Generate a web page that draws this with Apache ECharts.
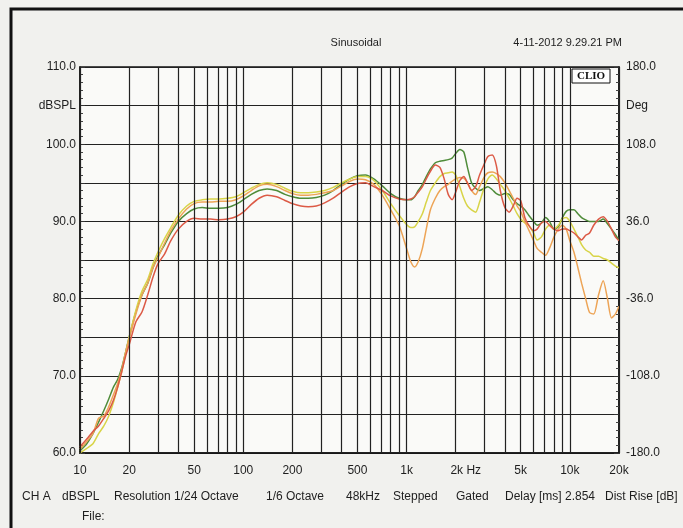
<!DOCTYPE html>
<html><head><meta charset="utf-8">
<script src="https://cdn.jsdelivr.net/npm/echarts@6/dist/echarts.min.js"></script>
<style>html,body{margin:0;padding:0;background:#f1f1ee;} #c{width:683px;height:528px;}</style>
</head><body><div id="c"></div>
<script>
// Frequencies (Hz) at which the curves were read
const freq = [10,11,12,13,14,15,16,17,18,19,20,
  22,24,26,28,30,
  33,36,40,45,50,
  56,63,71,80,90,100,
  112,125,140,160,180,200,
  225,250,280,315,355,400,
  450,500,560,630,710,800,
  900,1000,1060,1120,1180,1250,
  1320,1400,1500,1600,1700,1800,
  1900,2000,2120,2240,2360,2500,
  2650,2800,3000,3150,3350,3550,
  3750,4000,4250,4500,4750,5000,
  5300,5600,6000,6300,6700,7100,
  7500,8000,8500,9000,9500,10000,
  10600,11200,11800,12500,13200,14000,
  15000,16000,17000,18000,19000,20000];

const greenDb = [60.3,61.2,62.5,64.0,65.5,67.0,68.5,69.5,71.0,73.0,75.0,
  78.3,80.5,82.0,84.0,85.5,
  87.0,88.5,90.0,91.0,91.6,
  91.8,91.7,91.7,91.8,92.2,92.8,
  93.5,94.0,94.2,94.0,93.5,93.2,
  93.0,93.0,93.1,93.4,94.0,94.8,
  95.5,95.9,96.0,95.5,94.6,93.6,
  93.0,92.8,92.8,93.2,94.0,94.8,
  95.8,96.8,97.6,97.8,97.9,98.0,
  98.2,98.8,99.3,99.0,97.0,95.0,
  94.3,94.0,94.3,94.5,94.1,93.6,
  93.4,93.6,93.5,92.8,92.3,92.0,
  91.5,90.8,90.0,89.5,89.8,90.5,
  90.0,89.0,89.3,90.5,91.3,91.5,
  91.5,91.0,90.5,90.2,90.0,90.0,
  90.0,90.3,89.7,89.0,88.3,87.5];

const redDb = [60.8,61.8,62.8,63.5,64.5,65.5,66.8,68.5,70.5,72.5,74.0,
  77.0,78.3,80.5,82.8,84.5,
  85.8,87.5,89.0,90.0,90.4,
  90.3,90.3,90.2,90.3,90.6,91.2,
  92.2,93.0,93.4,93.2,92.7,92.3,
  92.0,91.9,92.0,92.4,93.0,93.8,
  94.5,94.9,95.0,94.5,94.0,93.3,
  92.9,92.8,92.9,93.2,93.8,94.5,
  95.5,96.5,97.3,97.0,95.5,93.5,
  92.8,93.8,95.3,95.8,95.0,94.0,
  94.5,96.0,97.5,98.4,98.6,97.2,
  94.0,91.8,91.2,92.0,93.0,92.7,
  90.5,89.5,88.8,89.0,89.8,90.0,
  89.5,89.0,88.8,89.0,89.0,88.8,
  88.5,88.0,87.6,88.2,88.5,89.5,
  90.3,90.6,90.0,89.0,88.0,87.5];

const yellowDb = [60.0,60.6,61.2,62.5,63.5,64.8,66.5,68.5,70.5,72.8,75.0,
  78.5,81.0,82.5,84.5,86.0,
  87.8,89.2,90.8,92.0,92.6,
  92.8,92.9,92.9,93.0,93.2,93.7,
  94.3,94.8,95.0,94.8,94.3,93.9,
  93.7,93.7,93.8,94.0,94.4,95.0,
  95.5,95.8,95.8,95.3,94.0,92.3,
  90.8,89.6,89.2,89.3,90.0,91.0,
  92.5,94.0,95.0,95.8,96.2,96.3,
  96.4,96.0,94.5,93.0,92.0,91.5,
  91.2,92.5,94.5,95.5,96.0,95.5,
  94.8,94.0,93.0,92.0,91.0,90.3,
  89.8,89.5,88.5,87.6,88.0,89.0,
  89.5,89.0,89.5,90.3,90.5,90.0,
  89.0,88.0,87.0,86.3,86.0,85.5,
  85.5,85.2,85.0,84.6,84.2,84.0];

const orangeDb = [60.5,61.5,62.5,64.5,64.8,66.0,67.5,69.0,70.8,73.0,74.8,
  78.0,80.5,82.0,84.0,85.3,
  87.2,88.8,90.3,91.6,92.3,
  92.5,92.5,92.6,92.6,92.8,93.3,
  94.0,94.6,94.8,94.5,94.0,93.6,
  93.4,93.4,93.5,93.7,94.0,94.6,
  95.2,95.5,95.4,94.8,93.4,91.5,
  89.5,86.5,84.8,84.1,84.8,86.5,
  89.0,91.5,93.0,94.0,94.5,94.8,
  95.2,95.5,95.7,95.6,95.0,94.0,
  93.5,94.5,95.8,96.3,96.4,96.2,
  95.8,95.0,94.0,93.0,92.0,91.3,
  90.0,88.9,87.5,86.5,86.0,85.6,
  86.5,88.0,89.0,89.5,89.0,87.5,
  86.0,84.0,82.0,80.0,78.2,78.0,
  80.5,82.3,80.0,77.5,78.0,79.0];

// Vertical grid-line frequencies and the labelled ones
const gridFreqs = [10,20,30,40,50,60,70,80,90,100,200,300,400,500,600,700,800,900,
  1000,2000,3000,4000,5000,6000,7000,8000,9000,10000,20000];
const xTickValues = [10,20,50,100,200,500,1000,2000,5000,10000,20000];
const xTickTexts = ['10','20','50','100','200','500','1k','2k Hz','5k','10k','20k'];

// Left (dBSPL) and right (Deg) axis labels
const leftLabels = {110:'110.0',105:'dBSPL',100:'100.0',90:'90.0',80:'80.0',70:'70.0',60:'60.0'};
const rightLabels = {180:'180.0',144:'Deg',108:'108.0',36:'36.0','-36':'-36.0','-108':'-108.0','-180':'-180.0'};

const footerTexts = ['CH A','dBSPL','Resolution 1/24 Octave','1/6 Octave','48kHz','Stepped','Gated','Delay [ms] 2.854','Dist Rise [dB]'];
const footerX = [22,62,114,266,346,393,456,505,605];

const FONT = 'Liberation Sans, Arial, sans-serif';
const TXT = '#1e1e1e';

function pairs(arr){ return freq.map((f,i)=>[f, arr[i]]); }

const chart = echarts.init(document.getElementById('c'), null, {renderer:'canvas'});

const markData = gridFreqs.map(f => {
  const k = xTickValues.indexOf(f);
  const item = {xAxis: f};
  if (k >= 0) {
    item.label = {show:true, position:'start', formatter: xTickTexts[k], distance: 12,
      color: TXT, fontSize: 12, fontFamily: FONT,
      offset: f === 2000 ? [10,0] : [0,0]};
  } else {
    item.label = {show:false};
  }
  return item;
});

const curve = (name, arr, color) => ({
  type:'line', name, data: pairs(arr), showSymbol:false, symbol:'none',
  smooth:0.25, z:3, silent:true,
  lineStyle:{color, width:1.5}, xAxisIndex:0, yAxisIndex:0
});

const graphics = [
  {type:'rect', shape:{x:11,y:9,width:720,height:560}, style:{fill:'none', stroke:'#111', lineWidth:3}, z:0},
  {type:'text', x:356, y:43, style:{text:'Sinusoidal', font:'11px '+FONT, fill:TXT, align:'center', verticalAlign:'middle'}},
  {type:'text', x:622, y:43, style:{text:'4-11-2012 9.29.21 PM', font:'11px '+FONT, fill:TXT, align:'right', verticalAlign:'middle'}},
  {type:'rect', shape:{x:572,y:69,width:38,height:14}, style:{fill:'#ffffff', stroke:'#111', lineWidth:1}, z:10},
  {type:'text', x:591, y:76.5, z:11, style:{text:'CLIO', font:'bold 11px Liberation Serif, serif', fill:'#111', align:'center', verticalAlign:'middle'}},
  {type:'text', x:82, y:517, style:{text:'File:', font:'12px '+FONT, fill:TXT, align:'left', verticalAlign:'middle'}}
];
footerTexts.forEach((t,i)=>{
  graphics.push({type:'text', x:footerX[i], y:497, style:{text:t, font:'12px '+FONT, fill:TXT, align:'left', verticalAlign:'middle'}});
});

chart.setOption({
  animation:false,
  backgroundColor:'#f1f1ee',
  grid:{left:80, right:64, top:67, bottom:75, show:true, backgroundColor:'#fafaf8', borderColor:'#151515', borderWidth:1.5, containLabel:false},
  xAxis:{type:'log', logBase:10, min:10, max:20000,
    axisLine:{show:true, onZero:false, lineStyle:{color:'#151515', width:1.5}},
    axisTick:{show:false}, axisLabel:{show:false}, splitLine:{show:false}, minorTick:{show:false}, minorSplitLine:{show:false}},
  yAxis:[
    {type:'value', position:'left', min:60, max:110, interval:5,
      axisLine:{show:true, onZero:false, lineStyle:{color:'#151515', width:1.5}},
      axisTick:{show:true, inside:true, length:5, lineStyle:{color:'#333'}},
      minorTick:{show:true, splitNumber:5, length:3, lineStyle:{color:'#444'}},
      splitLine:{show:true, lineStyle:{color:'#222', width:1.2}},
      axisLabel:{margin:4, color:TXT, fontSize:12, fontFamily:FONT, formatter:v=>leftLabels[v]||''}},
    {type:'value', position:'right', min:-180, max:180, interval:36,
      axisLine:{show:true, onZero:false, lineStyle:{color:'#151515', width:1.5}},
      axisTick:{show:true, inside:true, length:5, lineStyle:{color:'#333'}},
      minorTick:{show:true, splitNumber:5, length:3, lineStyle:{color:'#444'}},
      splitLine:{show:false},
      axisLabel:{margin:7, color:TXT, fontSize:12, fontFamily:FONT, formatter:v=>rightLabels[String(v)]||''}}
  ],
  graphic:graphics,
  series:[
    {type:'line', name:'grid', data:[], xAxisIndex:0, yAxisIndex:0, z:1, silent:true,
      markLine:{silent:true, symbol:['none','none'], animation:false,
        lineStyle:{color:'#222', width:1.2, type:'solid'},
        emphasis:{disabled:true}, data:markData}},
    curve('Green', greenDb, '#4f8c3a'),
    curve('Yellow', yellowDb, '#d8d448'),
    curve('Orange', orangeDb, '#eda456'),
    curve('Red', redDb, '#dc5a46')
  ]
});
</script>
</body></html>
